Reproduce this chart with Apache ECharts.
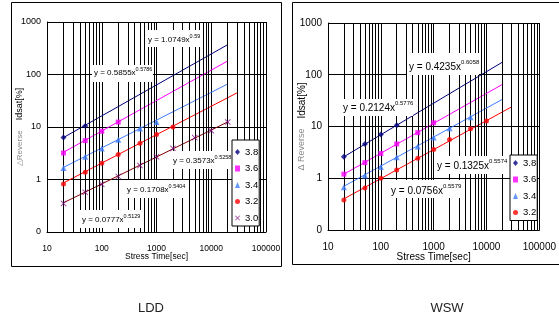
<!DOCTYPE html>
<html>
<head>
<meta charset="utf-8">
<script src="https://cdn.jsdelivr.net/npm/echarts@6/dist/echarts.min.js"></script>
<style>
  html, body { margin: 0; padding: 0; background: #fff; }
  #chart { width: 559px; height: 320px; }
</style>
</head>
<body>
<div id="chart"></div>
<script>
// stress times (sec) shared by both panels
const stressTimes = [20, 50, 100, 200, 500, 1000, 2000, 5000, 10000, 20000];
const voltages = ['3.8', '3.6', '3.4', '3.2', '3.0'];

// LDD measured points (delta reverse Idsat, %)
const ldd38 = [6.3, 10.4];
const ldd36 = [3.2, 5.5, 8.3, 12.4];
const ldd34 = [1.65, 2.7, 3.9, 5.7, 9.4, 12.5];
const ldd32 = [0.82, 1.37, 2.04, 3.0, 4.9, 7.2, 10.0];
const ldd30 = [0.35, 0.57, 0.81, 1.14, 1.84, 2.7, 3.9, 6.3, 8.5, 12.4];

// WSW measured points
const wsw38 = [2.6, 4.6, 7.0, 10.6];
const wsw36 = [1.2, 2.0, 3.0, 4.6, 7.6, 11.8];
const wsw34 = [0.67, 1.13, 1.65, 2.55, 4.1, 6.1, 9.2, 15.1];
const wsw32 = [0.38, 0.65, 1.0, 1.45, 2.43, 3.6, 5.6, 9.0, 12.8];

// power-law trendline end points [x, y]
const lddFit38 = [[20, 6.3], [20000, 370]];
const lddFit36 = [[20, 3.3], [20000, 181]];
const lddFit34 = [[20, 1.7], [20000, 66]];
const lddFit32 = [[20, 0.86], [30000, 45]];
const lddFit30 = [[20, 0.36], [20000, 12.5]];
const wswFit38 = [[20, 2.6], [20000, 175]];
const wswFit36 = [[20, 1.2], [20000, 65]];
const wswFit34 = [[20, 0.7], [20000, 33.5]];
const wswFit32 = [[20, 0.4], [30000, 24]];

// fit equations: [coefficient, exponent]
const lddEquations = [['1.0749', '0.59'], ['0.5855', '0.5786'], ['0.3573', '0.5258'], ['0.1708', '0.5404'], ['0.0777', '0.5129']];
const wswEquations = [['0.4235', '0.6058'], ['0.2124', '0.5776'], ['0.1325', '0.5574'], ['0.0756', '0.5579']];

const xTickLabels = ['10', '100', '1000', '10000', '100000'];
const yTickLabels = ['0', '1', '10', '100', '1000'];

const minorX = [];
[10, 100, 1000, 10000].forEach(d => {
  for (let k = 2; k <= 9; k++) minorX.push(d * k);
});

const FONT = 'Liberation Sans, Arial, sans-serif';
const colors = { '3.8': '#000080', '3.6': '#ff00ff', '3.4': '#3d7cff', '3.2': '#ff0000', '3.0': '#800000' };
const markerColors = { '3.8': '#000080', '3.6': '#ff00ff', '3.4': '#3d7cff', '3.2': '#ff0000', '3.0': '#800080' };
const symbols = {
  '3.8': ['diamond', 6], '3.6': ['rect', 5], '3.4': ['triangle', 6], '3.2': ['circle', 5],
  '3.0': ['path://M0,1L1,0L5,4L9,0L10,1L6,5L10,9L9,10L5,6L1,10L0,9L4,5Z', 6]
};

function pairs(values) {
  return values.map((v, i) => [stressTimes[i], v]);
}

function scatter(name, values, idx) {
  return {
    name: name, type: 'scatter', xAxisIndex: idx, yAxisIndex: idx,
    data: pairs(values), symbol: symbols[name][0], symbolSize: symbols[name][1],
    itemStyle: { color: markerColors[name] }, z: 5, silent: true
  };
}

function fitLine(name, points, idx) {
  return {
    name: 'fit ' + name, type: 'line', xAxisIndex: idx, yAxisIndex: idx,
    data: points, showSymbol: false, lineStyle: { color: colors[name], width: 1 }, z: 4, silent: true
  };
}

function gridHelper(idx) {
  return {
    name: 'grid' + idx, type: 'line', xAxisIndex: idx, yAxisIndex: idx, data: [], z: 1, silent: true,
    markLine: {
      silent: true, symbol: ['none', 'none'], label: { show: false }, animation: false,
      emphasis: { disabled: true },
      lineStyle: { color: '#000', width: 1, type: 'solid' },
      data: minorX.map(v => ({ xAxis: v }))
    }
  };
}

function xAxis(idx, fs, gap) {
  return {
    type: 'log', gridIndex: idx, min: 10, max: 100000, splitNumber: 4,
    axisLine: { lineStyle: { color: '#000', width: 1 } }, axisTick: { show: false },
    splitLine: { show: true, lineStyle: { color: '#000', width: 1 } },
    axisLabel: {
      color: '#000', fontSize: fs, fontFamily: FONT, margin: 12, hideOverlap: false,
      formatter: v => xTickLabels[Math.round(Math.log10(v)) - 1]
    },
    name: 'Stress Time[sec]', nameLocation: 'middle', nameGap: gap, nameMoveOverlap: false,
    nameTextStyle: { color: '#000', fontSize: fs, fontFamily: FONT }
  };
}

function yAxis(idx, fs, gray, gap) {
  return {
    type: 'log', gridIndex: idx, min: 0.1, max: 1000, splitNumber: 4,
    axisLine: { lineStyle: { color: '#000', width: 1 } }, axisTick: { show: false },
    splitLine: { show: true, lineStyle: { color: '#000', width: 1 } },
    axisLabel: {
      color: '#000', fontSize: fs, fontFamily: FONT, margin: 6,
      formatter: v => yTickLabels[Math.round(Math.log10(v)) + 1]
    },
    name: '{g|' + gray + '}   {b|Idsat[%]}', nameLocation: 'middle', nameRotate: 90, nameGap: gap,
    nameMoveOverlap: false,
    nameTextStyle: {
      fontFamily: FONT,
      rich: {
        g: { color: '#8a8a8a', fontSize: fs - 1, fontFamily: FONT },
        b: { color: '#000', fontSize: fs, fontFamily: FONT }
      }
    }
  };
}

function equation(eq, x, y, fs, sfs, lift, box) {
  return {
    type: 'group', z: 50,
    children: [
      { type: 'rect', shape: { x: box[0], y: box[1], width: box[2], height: box[3] }, style: { fill: '#fff' }, z: 50 },
      {
        type: 'text', x: x, y: y, z: 51,
        style: {
          text: '{m|y = ' + eq[0] + 'x}{s|' + eq[1] + '}', verticalAlign: 'middle', align: 'left',
          rich: {
            m: { fontSize: fs, fontFamily: FONT, fill: '#000' },
            s: { fontSize: sfs, fontFamily: FONT, fill: '#000', padding: [0, 0, lift * 2, 0] }
          }
        }
      }
    ]
  };
}

function legend(names, left, top, padTop) {
  return {
    data: names, orient: 'vertical', left: left, top: top, selectedMode: false,
    itemWidth: 5, itemHeight: 6, itemGap: 6.5, padding: [padTop, 1, 3, 3],
    borderColor: '#000', borderWidth: 1, backgroundColor: '#fff',
    textStyle: { color: '#000', fontSize: 9.5, fontFamily: FONT }, z: 60
  };
}

const chart = echarts.init(document.getElementById('chart'));

const option = {
  animation: false,
  backgroundColor: '#fff',
  grid: [
    { left: 47, top: 22, width: 219, height: 210 },
    { left: 328, top: 23, width: 215, height: 207 }
  ],
  xAxis: [xAxis(0, 8.5, 20), xAxis(1, 10, 22)],
  yAxis: [yAxis(0, 9, '△Reverse', 21), yAxis(1, 10, 'Δ Reverse', 20)],
  legend: [legend(voltages, 232, 140, 7), legend(voltages.slice(0, 4), 510, 155, 3)],
  series: [
    gridHelper(0), gridHelper(1),
    fitLine('3.8', lddFit38, 0), fitLine('3.6', lddFit36, 0), fitLine('3.4', lddFit34, 0),
    fitLine('3.2', lddFit32, 0), fitLine('3.0', lddFit30, 0),
    fitLine('3.8', wswFit38, 1), fitLine('3.6', wswFit36, 1), fitLine('3.4', wswFit34, 1), fitLine('3.2', wswFit32, 1),
    scatter('3.8', ldd38, 0), scatter('3.6', ldd36, 0), scatter('3.4', ldd34, 0),
    scatter('3.2', ldd32, 0), scatter('3.0', ldd30, 0),
    scatter('3.8', wsw38, 1), scatter('3.6', wsw36, 1), scatter('3.4', wsw34, 1), scatter('3.2', wsw32, 1)
  ],
  graphic: [
    { type: 'rect', shape: { x: 11.5, y: 2.5, width: 270, height: 264 }, style: { fill: 'none', stroke: '#000', lineWidth: 1 }, z: 0 },
    { type: 'rect', shape: { x: 292.5, y: 2.5, width: 280, height: 262 }, style: { fill: 'none', stroke: '#000', lineWidth: 1 }, z: 0 },
    equation(lddEquations[0], 148, 40, 8, 5.5, 4, [146, 30, 54, 17]),
    equation(lddEquations[1], 94, 73, 8, 5.5, 4, [92, 65, 61, 17]),
    equation(lddEquations[2], 173, 161, 8, 5.5, 4, [171, 151, 62, 18]),
    equation(lddEquations[3], 127, 190, 8, 5.5, 4, [125, 180, 62, 18]),
    equation(lddEquations[4], 82, 220, 8, 5.5, 4, [80, 210, 61, 18]),
    equation(wswEquations[0], 409, 67, 10, 6, 4.5, [407, 53, 72, 22]),
    equation(wswEquations[1], 343, 108, 10, 6, 4.5, [341, 99, 72, 17]),
    equation(wswEquations[2], 437, 166, 10, 6, 4.5, [435, 156, 73, 18]),
    equation(wswEquations[3], 391, 191, 10, 6, 4.5, [389, 180, 73, 18]),
    { type: 'text', x: 151, y: 308, style: { text: 'LDD', fontSize: 13, fontFamily: FONT, fill: '#222', align: 'center', verticalAlign: 'middle' } },
    { type: 'text', x: 447, y: 308, style: { text: 'WSW', fontSize: 13, fontFamily: FONT, fill: '#222', align: 'center', verticalAlign: 'middle' } }
  ]
};

chart.setOption(option);
</script>
</body>
</html>
